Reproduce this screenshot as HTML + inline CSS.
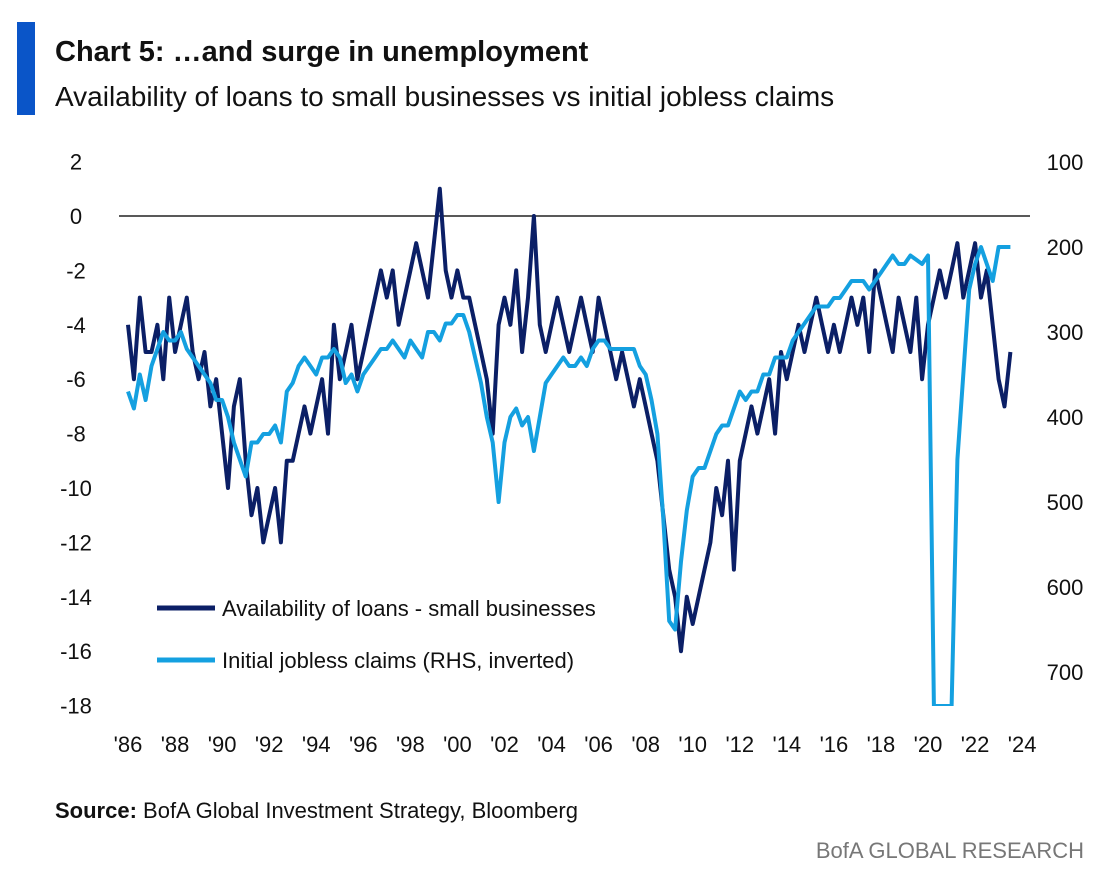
<!DOCTYPE html>
<html><head><meta charset="utf-8"><style>
html,body{margin:0;padding:0;background:#fff;font-family:"Liberation Sans",sans-serif;overflow:hidden;width:1116px;height:888px;}
svg{display:block;}
svg text{font-family:"Liberation Sans",sans-serif;}
</style></head><body>
<svg id="chart" width="1116" height="888" viewBox="0 0 1116 888">
<rect x="17" y="22" width="18" height="93" fill="#0a55c8"/>
<text x="55" y="61" font-size="29" font-weight="bold" fill="#111">Chart 5: …and surge in unemployment</text>
<text x="55" y="106" font-size="28" fill="#111">Availability of loans to small businesses vs initial jobless claims</text>
<g id="axes"></g>
<defs><clipPath id="plotclip"><rect x="100" y="140" width="940" height="566"/></clipPath></defs>
<g id="series" clip-path="url(#plotclip)"></g>
<g>
<line x1="157" y1="608" x2="215" y2="608" stroke="#0b1f66" stroke-width="5"/>
<text x="222" y="616" font-size="22" fill="#111">Availability of loans - small businesses</text>
<line x1="157" y1="660" x2="215" y2="660" stroke="#14a0e0" stroke-width="5"/>
<text x="222" y="668" font-size="22" fill="#111">Initial jobless claims (RHS, inverted)</text>
</g>
<text x="55" y="818" font-size="22" fill="#111"><tspan font-weight="bold">Source:</tspan>  BofA Global Investment Strategy, Bloomberg</text>
<text x="1084" y="858" font-size="22" fill="#777" text-anchor="end">BofA GLOBAL RESEARCH</text>
</svg>
<script>
const leftTicks=[2,0,-2,-4,-6,-8,-10,-12,-14,-16,-18];
const rightTicks=[100,200,300,400,500,600,700];
const xTickLabels=["'86","'88","'90","'92","'94","'96","'98","'00","'02","'04","'06","'08","'10","'12","'14","'16","'18","'20","'22","'24"];
const xTickYears=[1986,1988,1990,1992,1994,1996,1998,2000,2002,2004,2006,2008,2010,2012,2014,2016,2018,2020,2022,2024];
const startYear=1986;
const loans=[-4,-6,-3,-5,-5,-4,-6,-3,-5,-4,-3,-5,-6,-5,-7,-6,-8,-10,-7,-6,-9,-11,-10,-12,-11,-10,-12,-9,-9,-8,-7,-8,-7,-6,-8,-4,-6,-5,-4,-6,-5,-4,-3,-2,-3,-2,-4,-3,-2,-1,-2,-3,-1,1,-2,-3,-2,-3,-3,-4,-5,-6,-8,-4,-3,-4,-2,-5,-3,0,-4,-5,-4,-3,-4,-5,-4,-3,-4,-5,-3,-4,-5,-6,-5,-6,-7,-6,-7,-8,-9,-11,-13,-14,-16,-14,-15,-14,-13,-12,-10,-11,-9,-13,-9,-8,-7,-8,-7,-6,-8,-5,-6,-5,-4,-5,-4,-3,-4,-5,-4,-5,-4,-3,-4,-3,-5,-2,-3,-4,-5,-3,-4,-5,-3,-6,-4,-3,-2,-3,-2,-1,-3,-2,-1,-3,-2,-4,-6,-7,-5];
const claims=[370,390,350,380,340,320,300,310,310,300,320,330,340,350,360,380,380,400,430,450,470,430,430,420,420,410,430,370,360,340,330,340,350,330,330,320,330,360,350,370,350,340,330,320,320,310,320,330,310,320,330,300,300,310,290,290,280,280,300,330,360,400,430,500,430,400,390,410,400,440,400,360,350,340,330,340,340,330,340,320,310,310,320,320,320,320,320,340,350,380,420,520,640,650,570,510,470,460,460,440,420,410,410,390,370,380,370,370,350,350,330,330,330,310,300,290,280,270,270,270,260,260,250,240,240,240,250,240,230,220,210,220,220,210,215,220,210,1500,1000,800,760,450,350,250,220,200,220,240,200,200,200];
const NS="http://www.w3.org/2000/svg";
const X0=128,PXY=23.53;
function xs(t){return X0+(t-1986)*PXY;}
function yl(v){return Math.min(216-v*27.2,706);}
function yr(v){return Math.min(162+(v-100)*0.85,706);}
const axes=document.getElementById('axes'),series=document.getElementById('series');
function mk(tag,attrs,parent){const e=document.createElementNS(NS,tag);for(const k in attrs)e.setAttribute(k,attrs[k]);parent.appendChild(e);return e;}
const zl=mk('line',{x1:119,x2:1030,y1:yl(0),y2:yl(0),stroke:'#222','stroke-width':1.5},axes);


leftTicks.forEach(v=>{const t=mk('text',{x:76,y:yl(v)+8,'font-size':22,'text-anchor':'middle',fill:'#111'},axes);t.textContent=v;

});
rightTicks.forEach(v=>{const t=mk('text',{x:1065,y:yr(v)+8,'font-size':22,'text-anchor':'middle',fill:'#111'},axes);t.textContent=v;

});
xTickLabels.forEach((l,i)=>{const t=mk('text',{x:xs(xTickYears[i]),y:752,'font-size':22,'text-anchor':'middle',fill:'#111'},axes);t.textContent=l;

});
function path(arr,yf,color,name){const d=arr.map((v,i)=>(i?'L':'M')+xs(startYear+i*0.25).toFixed(1)+','+yf(v).toFixed(1)).join(' ');
const p=mk('path',{d:d,fill:'none',stroke:color,'stroke-width':4,'stroke-linejoin':'round'},series);

}
path(loans,yl,'#0b1f66','loans-line');
path(claims,yr,'#14a0e0','claims-line');
</script>
</body></html>
